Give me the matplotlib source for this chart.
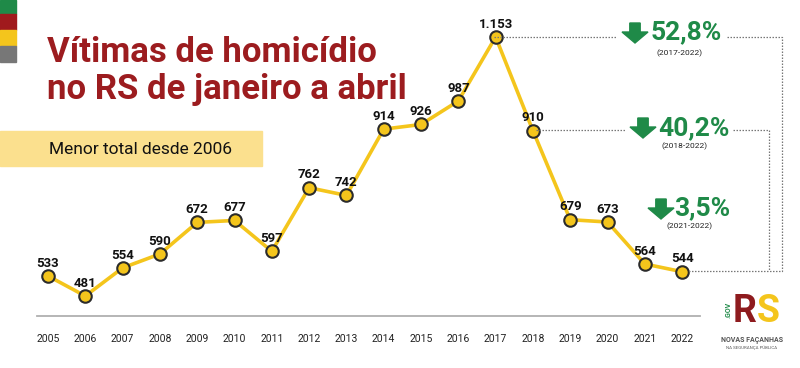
import matplotlib.pyplot as plt
from matplotlib.patches import Polygon, Rectangle
from matplotlib.lines import Line2D

# Data
years = list(range(2005, 2023))
victims = [533, 481, 554, 590, 672, 677, 597, 762, 742, 914, 926, 987, 1153, 910, 679, 673, 564, 544]
labels = ['1.153' if v == 1153 else str(v) for v in victims]

drops = ['52,8%', '40,2%', '3,5%']
drop_periods = ['(2017-2022)', '(2018-2022)', '(2021-2022)']

RED = '#9c1c1f'
GREEN = '#1f8a48'
YELLOW = '#f4c51c'

plt.rcParams['font.family'] = ['Roboto', 'DejaVu Sans']

fig = plt.figure(figsize=(8, 3.68), dpi=100)
fig.patch.set_facecolor('white')


def px(x, y):
    # pixel coords (from top-left) to figure fraction
    return x / 800, 1 - y / 368


# axes spanning the whole figure, limits chosen so points land where they do in the picture
ax = fig.add_axes([0, 0, 1, 1])
ax.set_xlim(2003.713, 2025.16)
ax.set_ylim(294.2, 1249)
ax.axis('off')

ax.plot(years, victims, color=YELLOW, lw=2.6, zorder=3,
        marker='o', ms=9, mfc=YELLOW, mec='#2b2b2b', mew=1.5)
for x, y, s in zip(years, victims, labels):
    ax.annotate(s, (x, y), xytext=(0, 4.5), textcoords='offset points',
                ha='center', va='bottom', fontsize=9.5, fontweight='bold', color='#111111', zorder=4)

# baseline + year labels
fig.add_artist(Line2D([37 / 800, 700 / 800], [1 - 316 / 368] * 2, color='#b0b0b0', lw=1.3))
for yr in years:
    ax.annotate(str(yr), (yr, 0), xycoords=('data', 'figure fraction'),
                xytext=(0, 368 - 339), textcoords='offset pixels',
                ha='center', va='center', fontsize=7.5, color='#222222')

# dotted connectors
dot = dict(color='#777777', lw=0.9, ls=(0, (1.2, 1.2)))
for seg in [[(494, 37), (617, 37)], [(727, 37), (782, 37), (782, 271), (688, 271)],
            [(536, 130), (625, 130)], [(733, 130), (769, 130), (769, 271)]]:
    xs = [px(*p)[0] for p in seg]
    ys = [px(*p)[1] for p in seg]
    fig.add_artist(Line2D(xs, ys, **dot))


def arrow(x, y, w=26, h=20):
    # down arrow, (x, y) top-left in pixels
    pts = [(x + w * 0.3, y), (x + w * 0.7, y), (x + w * 0.7, y + h * 0.45), (x + w, y + h * 0.45),
           (x + w * 0.5, y + h), (x, y + h * 0.45), (x + w * 0.3, y + h * 0.45)]
    fig.add_artist(Polygon([px(*p) for p in pts], closed=True, color=GREEN, transform=fig.transFigure))


# percentages
pos = [(622, 23, 651, 32, 680, 53), (630, 118, 658, 128, 685, 146), (648, 199, 674, 208, 690, 226)]
for (ax_, ay, tx, ty, sx, sy), pct, per in zip(pos, drops, drop_periods):
    arrow(ax_, ay)
    fig.text(*px(tx, ty), pct, ha='left', va='center', fontsize=19, fontweight='bold', color=GREEN)
    fig.text(*px(sx, sy), per, ha='center', va='center', fontsize=6, color='#222222')

# title
fig.text(*px(47, 62), 'Vítimas de homicídio', fontsize=25, fontweight='bold', color=RED, va='baseline', ha='left')
fig.text(*px(47, 99), 'no RS de janeiro a abril', fontsize=25, fontweight='bold', color=RED, va='baseline', ha='left')

# highlight box
fig.add_artist(Rectangle(px(0, 166), 262 / 800, 35 / 368, color='#fbe08e', transform=fig.transFigure))
fig.text(*px(49, 149), 'Menor total desde 2006', fontsize=12.5, color='#111111', va='center', ha='left')

# colour strips top-left
for (y0, y1), c in zip([(0, 14), (14, 30), (30, 46), (46, 62)], [GREEN, '#a01a1d', YELLOW, '#777777']):
    fig.add_artist(Rectangle(px(0, y1), 16 / 800, (y1 - y0) / 368, color=c, transform=fig.transFigure))

# logo
fig.text(*px(729, 310), '.GOV', rotation=90, fontsize=5, fontweight='bold', color=GREEN, ha='center', va='center')
fig.text(*px(733, 311), 'R', fontsize=27, fontweight='bold', color='#8e1b1e', ha='left', va='center')
fig.text(*px(757, 311), 'S', fontsize=27, fontweight='bold', color=YELLOW, ha='left', va='center')
fig.text(*px(752, 340), 'NOVAS FAÇANHAS', fontsize=5, fontweight='bold', color='#555555', ha='center', va='center')
fig.text(*px(752, 348), 'NA SEGURANÇA PÚBLICA', fontsize=3.2, color='#555555', ha='center', va='center')

fig.savefig('out.png', dpi=100)
